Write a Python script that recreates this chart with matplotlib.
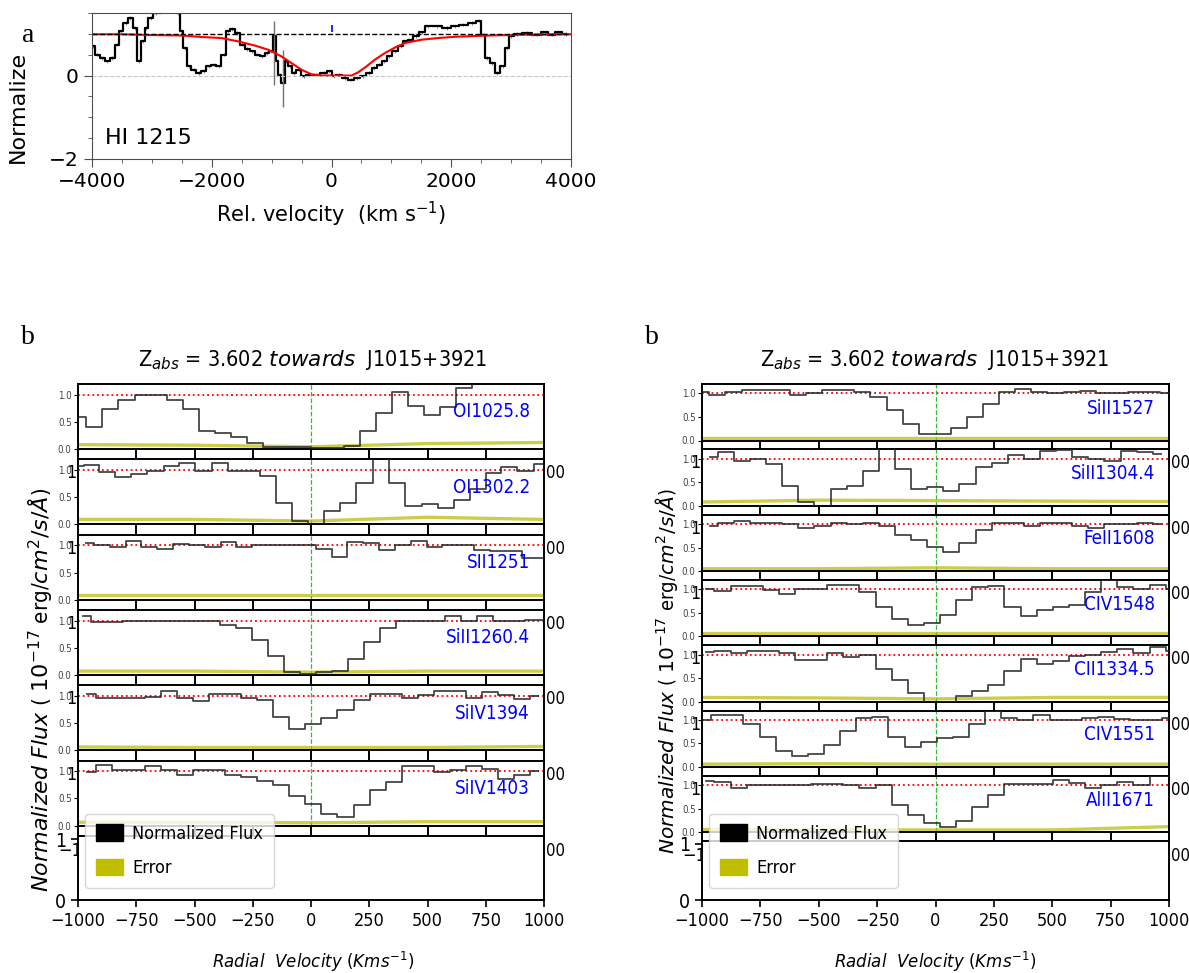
import numpy as np
import matplotlib.pyplot as plt
from matplotlib.patches import Patch
from matplotlib.ticker import MultipleLocator

W, H = 1189, 973
SERIF = ['Liberation Serif', 'DejaVu Serif']
COND = dict(family='DejaVu Sans', stretch='condensed')

# ---- panel a : HI 1215 ----
hi_v = [-3978, -3914, -3830, -3747, -3663, -3579, -3510, -3440, -3357, -3287, -3217, -3148,
        -3092, -3022, -2925, -2786, -2646, -2563, -2507, -2451, -2382, -2298, -2214, -2131,
        -2047, -1964, -1880, -1797, -1727, -1657, -1574, -1490, -1407, -1323, -1240, -1156,
        -1072, -1003, -955, -914, -864, -808, -752, -696, -627, -543, -460, -376, -251, -125,
        -42, 42, 125, 223, 334, 432, 529, 627, 710, 794, 877, 961, 1058, 1156, 1240, 1323,
        1407, 1504, 1616, 1755, 1922, 2061, 2201, 2354, 2465, 2535, 2604, 2674, 2772, 2869,
        2925, 2994, 3106, 3259, 3426, 3565, 3677, 3788, 3922]
hi_f = [0.70, 0.50, 0.42, 0.34, 0.42, 0.74, 1.06, 1.26, 1.38, 1.14, 0.34, 0.82,
        1.14, 1.38, 1.50, 1.60, 1.60, 1.50, 1.06, 0.66, 0.22, 0.14, 0.06, 0.10,
        0.22, 0.26, 0.22, 0.50, 1.06, 1.12, 1.02, 0.74, 0.64, 0.58, 0.50, 0.46,
        0.54, 0.58, 0.94, 0.34, 0.02, -0.18, 0.34, 0.22, 0.06, 0.14, -0.02, 0.02, 0.02, 0.06,
        0.10, -0.02, 0.02, -0.06, -0.10, -0.06, -0.02, 0.06, 0.18, 0.26, 0.35, 0.46, 0.58, 0.70, 0.82, 0.86,
        0.94, 1.04, 1.18, 1.18, 1.14, 1.18, 1.22, 1.26, 1.32, 0.98, 0.42, 0.30, 0.06, 0.22,
        0.66, 0.94, 1.00, 1.02, 0.98, 1.04, 0.98, 1.04, 1.00]
spike_v = [-955, -808]
spike_lo = [-0.22, -0.75]
spike_hi = [1.30, 0.62]
fit_v = [-4000, -3510, -2953, -2507, -2117, -1838, -1560, -1281, -1058, -836, -669, -501,
         -334, -167, 0, 200, 334, 446, 557, 724, 891, 1058, 1226, 1504, 1783, 2061, 2618, 3175, 4000]
fit_f = [0.99, 0.99, 0.97, 0.96, 0.92, 0.90, 0.82, 0.72, 0.62, 0.46, 0.30, 0.14,
         0.03, 0.00, 0.00, 0.00, 0.00, 0.08, 0.19, 0.38, 0.54, 0.67, 0.78, 0.86, 0.90, 0.93, 0.96, 0.98, 0.99]

# ---- panel b : metal lines ----
err_v = [-1000, -500, 0, 500, 1000]

left_names = ['OI1025.8', 'OI1302.2', 'SII1251', 'SiII1260.4', 'SiIV1394', 'SiIV1403']
left_v = [
    [-999, -930, -861, -792, -723, -654, -585, -516, -447, -378, -309, -240, -171, -102, -33,
     36, 105, 174, 243, 312, 381, 450, 519, 588, 657, 726, 795, 864, 933, 1002],
    [-1010, -942, -874, -806, -737, -667, -599, -531, -461, -392, -324, -255, -186, -117, -47,
     22, 90, 159, 230, 300, 369, 439, 510, 579, 647, 715, 783, 851, 920, 990],
    [-966, -898, -830, -762, -694, -626, -558, -490, -422, -354, -286, -218, -150, -82, -14,
     54, 122, 190, 258, 326, 394, 462, 530, 598, 666, 734, 802, 870, 938, 1006],
    [-978, -910, -841, -772, -703, -634, -565, -496, -427, -358, -289, -220, -151, -82, -13,
     56, 125, 194, 263, 332, 401, 470, 539, 608, 677, 746, 815, 884, 953, 1022],
    [-961, -887, -818, -749, -680, -611, -542, -473, -404, -335, -266, -197, -128, -59, 10,
     79, 148, 217, 286, 355, 424, 493, 562, 631, 700, 769, 838, 907, 976],
    [-961, -887, -818, -749, -680, -611, -542, -473, -404, -335, -266, -197, -128, -59, 10,
     79, 148, 217, 286, 355, 424, 493, 562, 631, 700, 769, 838, 907, 976],
]
left_f = [
    [0.59, 0.40, 0.74, 0.91, 1.00, 1.00, 0.90, 0.74, 0.34, 0.29, 0.23, 0.12, 0.03, 0.03, 0.03,
     0.02, 0.02, 0.05, 0.34, 0.66, 1.06, 0.80, 0.62, 0.77, 1.13, 1.30, 1.30, 1.30, 1.30, 1.30],
    [1.07, 1.10, 0.96, 0.88, 0.93, 0.98, 1.07, 1.13, 0.99, 1.13, 0.98, 0.99, 0.90, 0.40, 0.07,
     -0.02, 0.24, 0.40, 0.76, 1.30, 0.76, 0.34, 0.37, 0.31, 0.45, 0.66, 0.95, 1.06, 0.99, 1.12],
    [1.05, 1.00, 0.97, 1.09, 0.98, 0.94, 1.03, 1.00, 0.97, 1.06, 0.97, 1.00, 1.00, 1.00, 1.00,
     0.94, 0.78, 1.06, 1.04, 0.91, 1.01, 1.08, 0.97, 1.00, 1.00, 0.92, 0.90, 0.90, 0.76, 0.76],
    [1.09, 0.97, 0.97, 1.00, 1.00, 1.00, 1.00, 1.00, 1.00, 0.92, 0.87, 0.64, 0.34, 0.06, 0.02,
     0.05, 0.08, 0.30, 0.61, 0.87, 1.00, 1.00, 1.00, 1.09, 1.00, 1.08, 1.00, 0.99, 1.01, 1.01],
    [1.03, 0.96, 0.96, 0.96, 0.99, 1.09, 0.96, 0.91, 1.03, 1.03, 0.96, 0.93, 0.62, 0.40, 0.49,
     0.59, 0.74, 0.93, 1.03, 1.03, 0.96, 1.02, 1.09, 1.09, 0.96, 1.07, 1.02, 0.94, 1.00],
    [0.99, 1.12, 1.02, 1.02, 1.09, 1.02, 0.94, 1.02, 1.02, 0.94, 0.90, 0.83, 0.75, 0.54, 0.40,
     0.22, 0.15, 0.38, 0.65, 0.80, 1.10, 1.10, 0.99, 1.02, 1.10, 1.05, 0.86, 0.94, 1.00],
]
left_err = [
    [0.08, 0.07, 0.04, 0.10, 0.12],
    [0.09, 0.09, 0.06, 0.13, 0.09],
    [0.08, 0.08, 0.08, 0.08, 0.08],
    [0.07, 0.07, 0.05, 0.07, 0.07],
    [0.06, 0.05, 0.05, 0.05, 0.07],
    [0.06, 0.06, 0.05, 0.07, 0.07],
]

right_names = ['SiII1527', 'SiII1304.4', 'FeII1608', 'CIV1548', 'CII1334.5', 'CIV1551', 'AlII1671']
grid_a = [-1003, -934, -865, -796, -727, -658, -589, -520, -451, -382, -313, -244, -175, -106, -37,
          31, 100, 169, 238, 307, 376, 445, 514, 583, 652, 721, 790, 859, 928, 997]
grid_b = [-967, -898, -829, -760, -691, -622, -553, -484, -415, -346, -277, -208, -139, -70, -1,
          68, 137, 206, 275, 344, 413, 482, 551, 620, 689, 758, 827, 896, 965]
grid_c = [-981, -912, -843, -774, -705, -636, -567, -498, -429, -360, -291, -222, -153, -84, -15,
          54, 123, 192, 261, 330, 399, 468, 537, 606, 675, 744, 813, 882, 951, 1020]
grid_d = [-996, -926, -857, -788, -719, -650, -581, -512, -443, -374, -305, -236, -167, -98, -29,
          40, 109, 178, 247, 316, 385, 454, 523, 592, 661, 730, 799, 868, 937, 1006]
right_v = [grid_a, grid_b, grid_b, grid_c, grid_c, grid_d, grid_c]
right_f = [
    [1.04, 0.96, 1.04, 1.07, 1.07, 1.07, 0.96, 1.00, 1.07, 1.07, 1.04, 0.93, 0.65, 0.35, 0.13,
     0.13, 0.27, 0.50, 0.78, 1.04, 1.10, 1.04, 1.00, 1.04, 1.06, 1.00, 1.00, 1.04, 1.04, 1.00],
    [1.04, 1.14, 0.96, 1.00, 0.88, 0.43, 0.09, -0.02, 0.36, 0.43, 0.74, 1.25, 0.79, 0.36, 0.39,
     0.31, 0.46, 0.82, 0.91, 1.07, 1.00, 1.16, 1.19, 1.04, 1.00, 0.96, 1.16, 1.14, 1.11],
    [0.95, 1.02, 1.06, 1.02, 1.02, 1.00, 0.91, 0.95, 1.02, 0.99, 1.02, 0.95, 0.77, 0.66, 0.52,
     0.41, 0.59, 0.88, 1.02, 1.02, 0.95, 1.02, 1.02, 0.95, 0.91, 1.00, 0.99, 1.02, 1.00],
    [1.00, 0.96, 1.07, 1.07, 0.98, 0.91, 1.00, 1.00, 1.10, 1.10, 0.94, 0.63, 0.38, 0.25, 0.29,
     0.46, 0.78, 1.04, 1.07, 0.63, 0.43, 0.57, 0.63, 0.67, 0.94, 1.20, 1.04, 1.00, 1.10, 1.00],
    [1.05, 1.07, 1.04, 1.07, 1.07, 1.04, 0.89, 0.89, 1.04, 0.96, 1.00, 0.69, 0.46, 0.19, -0.02,
     0.00, 0.12, 0.23, 0.36, 0.66, 0.91, 0.81, 0.87, 0.98, 1.00, 1.05, 1.11, 1.04, 1.16, 1.08],
    [1.00, 1.11, 1.11, 0.91, 0.64, 0.33, 0.24, 0.28, 0.47, 0.76, 1.04, 1.07, 0.63, 0.43, 0.54,
     0.61, 0.64, 0.91, 1.19, 1.05, 0.99, 1.10, 0.99, 0.99, 1.04, 1.07, 1.01, 0.99, 1.00, 1.04],
    [1.10, 1.06, 0.95, 1.00, 1.00, 1.00, 1.00, 1.02, 1.02, 1.00, 0.95, 1.00, 0.58, 0.36, 0.19,
     0.12, 0.24, 0.54, 0.80, 1.02, 1.02, 1.02, 1.11, 1.04, 0.95, 1.00, 1.06, 1.00, 1.20, 1.20],
]
right_err = [
    [0.05, 0.05, 0.05, 0.05, 0.05],
    [0.08, 0.12, 0.11, 0.10, 0.09],
    [0.05, 0.05, 0.07, 0.05, 0.05],
    [0.07, 0.07, 0.07, 0.07, 0.07],
    [0.09, 0.08, 0.06, 0.09, 0.09],
    [0.06, 0.07, 0.06, 0.06, 0.06],
    [0.06, 0.05, 0.05, 0.05, 0.12],
]
vel_ticks = [-1000, -750, -500, -250, 0, 250, 500, 750, 1000]


def px(l, t, r, b):
    return [l / W, 1 - b / H, (r - l) / W, (b - t) / H]


fig = plt.figure(figsize=(W / 100, H / 100), dpi=100)

# panel a
ax = fig.add_axes(px(92, 13, 571, 159))
ax.errorbar(hi_v, hi_f, yerr=0.04, fmt='none', ecolor='0.55', elinewidth=0.7)
ax.step(hi_v, hi_f, where='mid', color='k', lw=1.6)
ax.vlines(spike_v, spike_lo, spike_hi, color='0.45', lw=1.0)
ax.plot(fit_v, fit_f, color='red', lw=1.5)
ax.axhline(1, color='k', ls='--', lw=1)
ax.axhline(0, color='0.78', ls='--', lw=0.8)
ax.vlines(0, 1.05, 1.22, color='blue', lw=1.2)
ax.set_xlim(-4000, 4000)
ax.set_ylim(-2, 1.5)
ax.xaxis.set_major_locator(MultipleLocator(2000))
ax.xaxis.set_minor_locator(MultipleLocator(500))
ax.yaxis.set_major_locator(MultipleLocator(2))
ax.yaxis.set_minor_locator(MultipleLocator(0.5))
ax.tick_params(which='major', labelsize=14.5, length=6, color='0.3')
ax.tick_params(which='minor', length=3, color='0.3')
for s in ax.spines.values():
    s.set_color('0.3')
ax.set_xlabel(r'Rel. velocity  (km s$^{-1}$)', fontsize=15, labelpad=6)
ax.text(0.027, 0.145, 'HI 1215', transform=ax.transAxes, fontsize=16, va='center')
fig.text(18 / W, 1 - 163 / H, 'Normalize', rotation=90, ha='center', va='bottom', fontsize=16)
fig.text(28 / W, 1 - 35 / H, 'a', family=SERIF, fontsize=20, ha='center', va='center')


def panel_b(left, right, names, vs, fs, es, step, height, bot_top, cx, ylab_x, ylab_y, ylab_size, letter_x):
    gap_pt = (step - height) * 0.72
    for i in range(len(names)):
        t = 384 + i * step
        a = fig.add_axes(px(left, t, right, t + height))
        a.step(vs[i], fs[i], where='mid', color='#262626', lw=1.3, alpha=0.85, zorder=3)
        a.plot(err_v, es[i], color='#b8b800', lw=2.4, alpha=0.7, zorder=2)
        a.axhline(1.0, color='red', ls=':', lw=1.3, zorder=1)
        a.axvline(0, color='#33bb33', ls='--', lw=0.9, zorder=1)
        a.set_xlim(-1000, 1000)
        a.set_ylim(0, 1.2)
        a.set_xticks(vel_ticks)
        a.set_xticklabels([])
        a.set_yticks([0, 0.5, 1.0], labels=['0.0', '0.5', '1.0'], fontsize=7, color='#444444', **COND)
        a.tick_params(axis='x', direction='out', length=gap_pt, width=1.4)
        a.tick_params(axis='y', direction='out', length=3, width=0.8, pad=1.5)
        for s in a.spines.values():
            s.set_linewidth(1.4)
        a.text(0.97, 0.57, names[i], transform=a.transAxes, ha='right', va='center',
               color='blue', fontsize=13.5, **COND)
        if i > 0:
            fig.text((left - 12) / W, 1 - (t + 14) / H, '10', ha='left', va='center',
                     fontsize=13, zorder=-1, **COND)
            fig.text((right + 2) / W, 1 - (t + 14) / H, '00', ha='left', va='center',
                     fontsize=12, **COND)
    b = fig.add_axes(px(left, bot_top, right, 900))
    b.set_xlim(-1000, 1000)
    b.set_ylim(0, 1.05)
    b.set_xticks(vel_ticks, labels=[str(v).replace('-', '\u2212') for v in vel_ticks],
                 fontsize=13, **COND)
    b.set_yticks([0, 1], labels=['0', '1'], fontsize=14, **COND)
    b.tick_params(direction='out', length=5, width=1.2)
    for s in b.spines.values():
        s.set_linewidth(1.4)
    fig.text((left - 20) / W, 1 - (bot_top + 15) / H, '\u221210', ha='left', va='center',
             fontsize=13, zorder=-1, **COND)
    fig.text((right + 2) / W, 1 - (bot_top + 15) / H, '00', ha='left', va='center',
             fontsize=12, **COND)
    fig.text(cx / W, 1 - 360 / H, r'Z$_{abs}$ = 3.602 $towards$  J1015+3921',
             ha='center', va='center', fontsize=15.5, **COND)
    fig.text(cx / W, 1 - 962 / H, r'$Radial\ \ Velocity\ (Kms^{-1})$',
             ha='center', va='center', fontsize=12, **COND)
    fig.text(ylab_x / W, 1 - ylab_y / H, r'$Normalized\ Flux$ ( $10^{-17}$ erg/$cm^2/s/\AA$)',
             rotation=90, ha='center', va='center', fontsize=ylab_size, **COND)
    fig.text(letter_x / W, 1 - 337 / H, 'b', family=SERIF, fontsize=20, ha='center', va='center')
    fig.legend(handles=[Patch(facecolor='k', edgecolor='k'), Patch(facecolor='#bfbf00', edgecolor='#bfbf00')],
               labels=['Normalized Flux', 'Error'], loc='lower left',
               bbox_to_anchor=((left + 7) / W, 1 - 888 / H), borderaxespad=0,
               prop={'family': 'DejaVu Sans', 'stretch': 'condensed', 'size': 13},
               handlelength=1.5, handleheight=1.0, handletextpad=0.5, labelspacing=0.9,
               borderpad=0.6, framealpha=0.8)


panel_b(78, 544, left_names, left_v, left_f, left_err, 75.3, 65, 836, 313, 41, 690, 16, 28)
panel_b(702, 1169, right_names, right_v, right_f, right_err, 65.3, 56.5, 841, 935, 666, 671, 14.5, 652)

fig.savefig('out.png', dpi=100)
